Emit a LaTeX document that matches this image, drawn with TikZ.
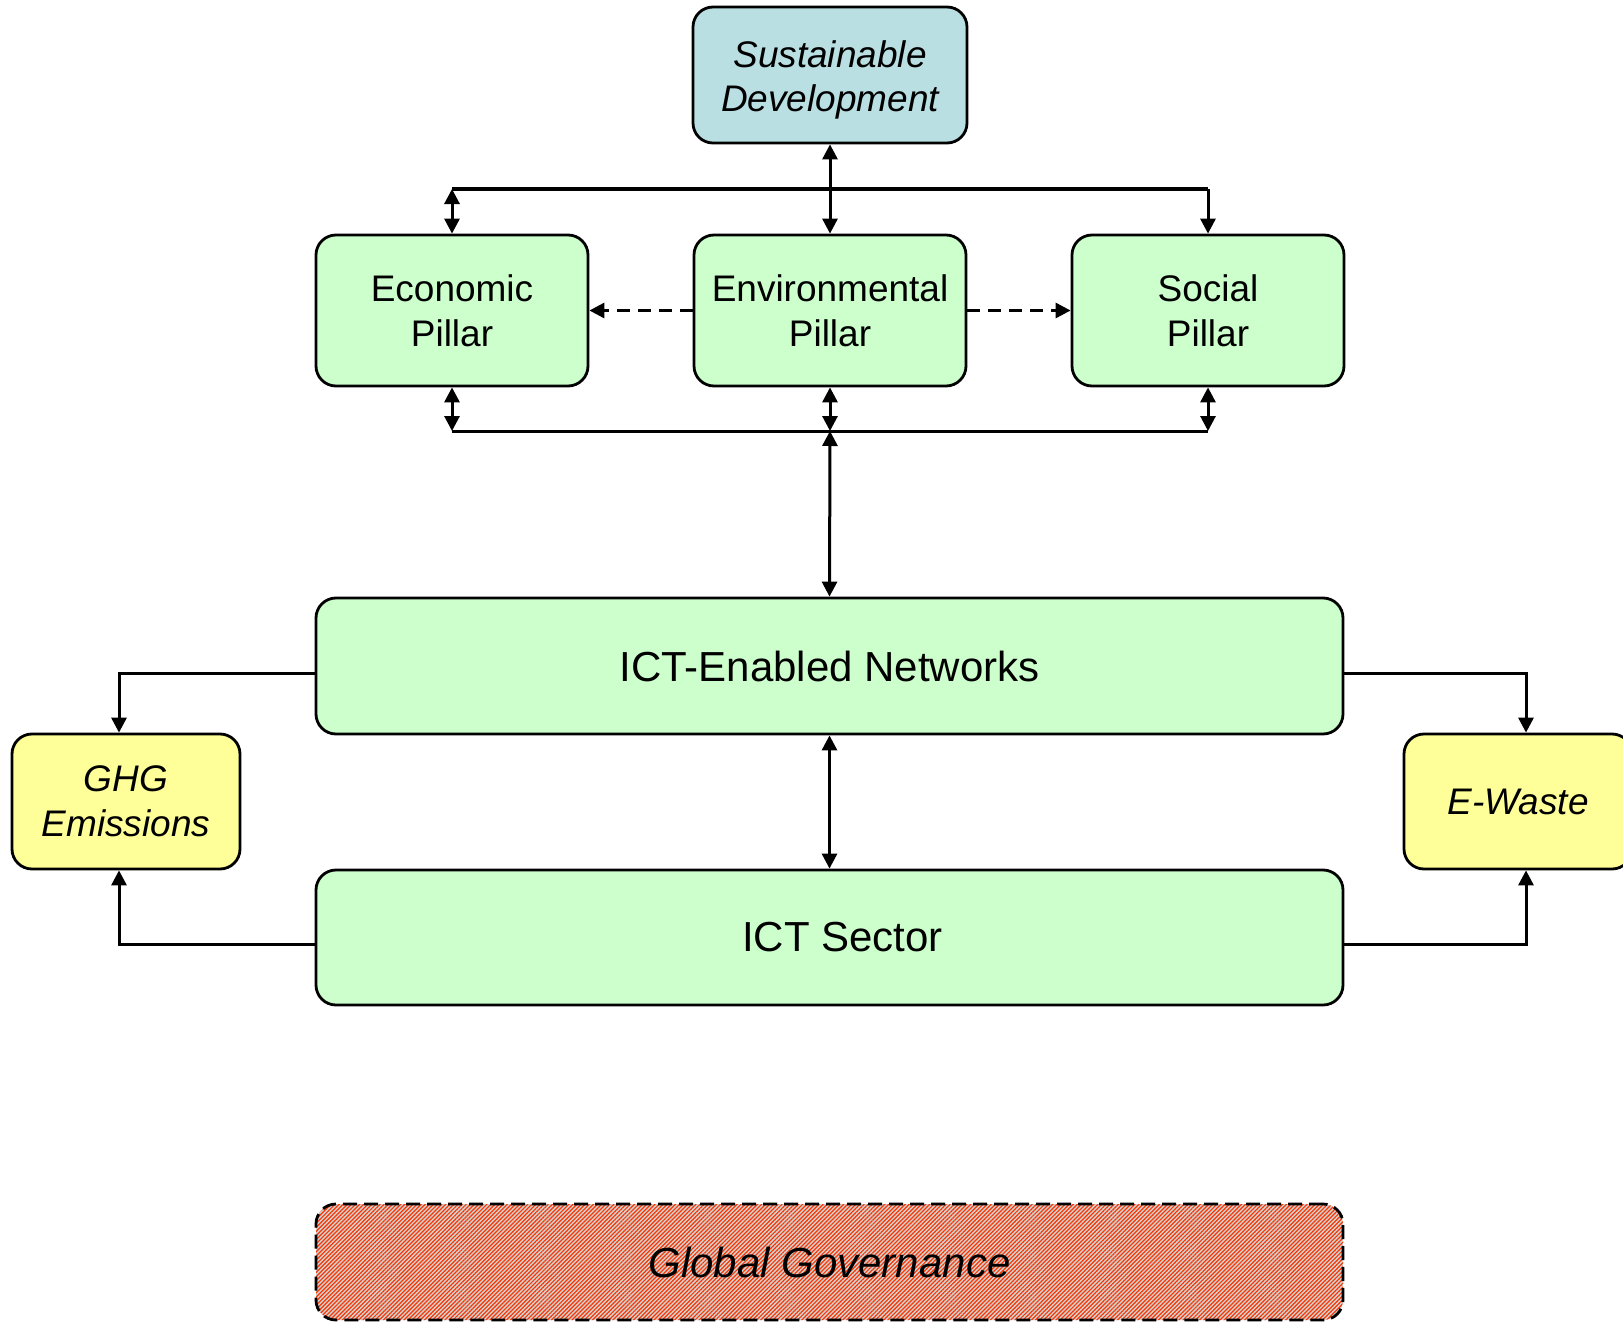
\documentclass[tikz,border=0pt]{standalone}
\usepackage{fontspec}
\setmainfont{Liberation Sans}
\usetikzlibrary{arrows.meta,patterns.meta}
\definecolor{boxgreen}{HTML}{CCFFCC}
\definecolor{boxyellow}{HTML}{FFFF99}
\definecolor{boxblue}{HTML}{B9DFE3}
\definecolor{hatchred}{HTML}{FF3300}
\definecolor{hatchgrey}{HTML}{CDD4D4}
\tikzset{
  box/.style={draw=black, line width=1.4pt, rounded corners=10pt, align=center, inner sep=0pt},
  pillar/.style={box, fill=boxgreen, minimum width=136pt, minimum height=75.5pt, font=\fontsize{18.5}{22.3}\selectfont},
  wide/.style={box, fill=boxgreen, minimum width=513.5pt, minimum height=68pt, font=\fontsize{21}{25}\selectfont},
  side/.style={box, fill=boxyellow, minimum width=114pt, minimum height=67.5pt, font=\fontsize{18.5}{22.3}\selectfont\itshape},
  conn/.style={line width=1.5pt},
  arr/.style={conn, -{Triangle[length=7.5pt,width=7.5pt]}},
  dbl/.style={conn, {Triangle[length=7.5pt,width=7.5pt]}-{Triangle[length=7.5pt,width=7.5pt]}},
  dsh/.style={arr, dash pattern=on 6.5pt off 4pt},
  label/.style={align=center, inner sep=0pt},
}
\begin{document}
\begin{tikzpicture}[x=0.5pt,y=-0.5pt]
\clip (0,0) rectangle (1623,1322);
\fill[white] (0,0) rectangle (1623,1322);

\node[box, fill=boxblue, minimum width=137pt, minimum height=68pt] (sd) at (830,75) {};
\node[label, font=\fontsize{18.5}{22.3}\selectfont\itshape] (sdt) at (830,80) {Sustainable\\Development};

\node[pillar] (econ) at (452,310.5) {Economic\\Pillar};
\node[pillar] (env) at (830,310.5) {Environmental\\Pillar};
\node[pillar] (soc) at (1208,310.5) {Social\\Pillar};

\node[wide] (ictn) at (829.5,666) {ICT-Enabled Networks};
\node[wide, minimum height=67.5pt] (icts) at (829.5,937.5) {\hspace*{13pt}ICT Sector};

\node[side] (ghg) at (126,801.5) {GHG\\Emissions};
\node[side] (ew) at (1518,801.5) {E-Waste};

\node[box, dash pattern=on 7pt off 3.5pt, minimum width=513.5pt, minimum height=58pt,
      preaction={fill=hatchgrey},
      pattern={Lines[angle=45,distance=1.45pt,line width=0.6pt]}, pattern color=hatchred] (gg) at (829.5,1262) {};
\node[label, font=\fontsize{21}{25}\selectfont\itshape] (ggt) at (gg.center) {Global Governance};

% top bus
\coordinate (tbL) at (452,189);
\coordinate (tbR) at (1208,189);
\draw[dbl] (sd.south) -- (env.north);
\draw[conn] (tbL) -- (tbR);
\draw[dbl] (tbL) -- (econ.north);
\draw[arr] (tbR) -- (soc.north);

% dashed links
\draw[dsh] (env.west) -- (econ.east);
\draw[dsh] (env.east) -- (soc.west);

% bottom bus
\coordinate (bbL) at (452,431);
\coordinate (bbM) at (830,431);
\coordinate (bbR) at (1208,431);
\draw[conn] (bbL) -- (bbR);
\draw[dbl] (econ.south) -- (bbL);
\draw[dbl] (env.south) -- (bbM);
\draw[dbl] (soc.south) -- (bbR);
\draw[dbl] (bbM) -- (ictn.north);

\draw[dbl] (ictn.south) -- (icts.north);

% side links
\coordinate (g1) at (119,673);
\coordinate (g2) at (119,944);
\coordinate (e1) at (1526,673);
\coordinate (e2) at (1526,944);
\draw[arr] (ictn.west |- g1) -- (g1) -- (ghg.north -| g1);
\draw[arr] (icts.west |- g2) -- (g2) -- (ghg.south -| g2);
\draw[arr] (ictn.east |- e1) -- (e1) -- (ew.north -| e1);
\draw[arr] (icts.east |- e2) -- (e2) -- (ew.south -| e2);
\end{tikzpicture}
\end{document}
